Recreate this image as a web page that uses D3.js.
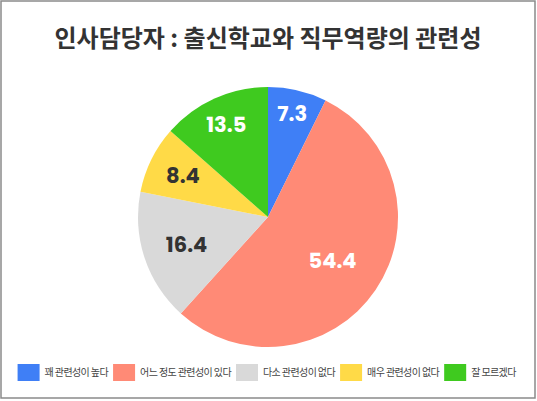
<!DOCTYPE html>
<html><head><meta charset="utf-8">
<script src="https://cdn.jsdelivr.net/npm/d3@7"></script>
<style>
html,body{margin:0;padding:0;background:#fff;}
svg{display:block;}
</style></head>
<body>
<svg id="c" width="537" height="401"></svg>
<script>
const categories = ["꽤 관련성이 높다", "어느 정도 관련성이 있다", "다소 관련성이 없다", "매우 관련성이 없다", "잘 모르겠다"];
const values = [7.3, 54.4, 16.4, 8.4, 13.5];
const labels = ["7.3", "54.4", "16.4", "8.4", "13.5"];
const title = "인사담당자 : 출신학교와 직무역량의 관련성";

const colors = ["#3F7FF6", "#FF8A76", "#D9D9D9", "#FFDA47", "#3FCA1F"];
const labelColors = ["#fff", "#fff", "#333", "#333", "#fff"];
const labelRadiusFrac = [0.82, 0.6, 0.66, 0.73, 0.78];

const W = 537, H = 401;
const svg = d3.select("#c");
svg.append("rect").attr("x", 1).attr("y", 1).attr("width", W - 3).attr("height", H - 4)
  .attr("fill", "#fff").attr("stroke", "#8a8a8a").attr("stroke-width", 1.5);

svg.append("text").attr("x", 268).attr("y", 47).attr("text-anchor", "middle")
  .attr("font-family", "'Noto Sans CJK KR', sans-serif").attr("font-weight", 700)
  .attr("font-size", 24).attr("fill", "#333").text(title);

const cx = 268, cy = 217, R = 130;
const pie = d3.pie().sort(null).value(d => d)(values);
const arc = d3.arc().innerRadius(0).outerRadius(R);
const g = svg.append("g").attr("transform", `translate(${cx},${cy})`);
g.selectAll("path").data(pie).join("path").attr("d", arc).attr("fill", (d, i) => colors[i]);

g.selectAll("text.lbl").data(pie).join("text").attr("class", "lbl")
  .attr("transform", (d, i) => {
    const a = (d.startAngle + d.endAngle) / 2;
    const r = R * labelRadiusFrac[i];
    return `translate(${Math.sin(a) * r},${-Math.cos(a) * r})`;
  })
  .attr("text-anchor", "middle").attr("dy", "0.36em")
  .attr("font-family", "Poppins, 'Noto Sans', sans-serif").attr("font-weight", 700)
  .attr("font-size", 21).attr("fill", (d, i) => labelColors[i])
  .text((d, i) => labels[i]);

// legend
const lg = svg.append("g");
const sw = 22, sh = 17, gap1 = 5, gap2 = 5;
const items = lg.selectAll("g").data(categories).join("g");
items.append("rect").attr("width", sw).attr("height", sh).attr("fill", (d, i) => colors[i]);
items.append("text").attr("x", sw + gap1).attr("y", sh / 2).attr("dy", "0.35em")
  .attr("font-family", "'Noto Sans CJK KR', sans-serif").attr("font-size", 10)
  .attr("letter-spacing", -0.6)
  .attr("fill", "#444").text(d => d);
let x = 0;
const pos = [];
items.each(function () {
  const tw = d3.select(this).select("text").node().getComputedTextLength();
  pos.push(x);
  x += sw + gap1 + tw + gap2;
});
const total = x - gap2;
const x0 = 266.7 - total / 2;
items.attr("transform", (d, i) => `translate(${x0 + pos[i]},364)`);
</script>
</body></html>
